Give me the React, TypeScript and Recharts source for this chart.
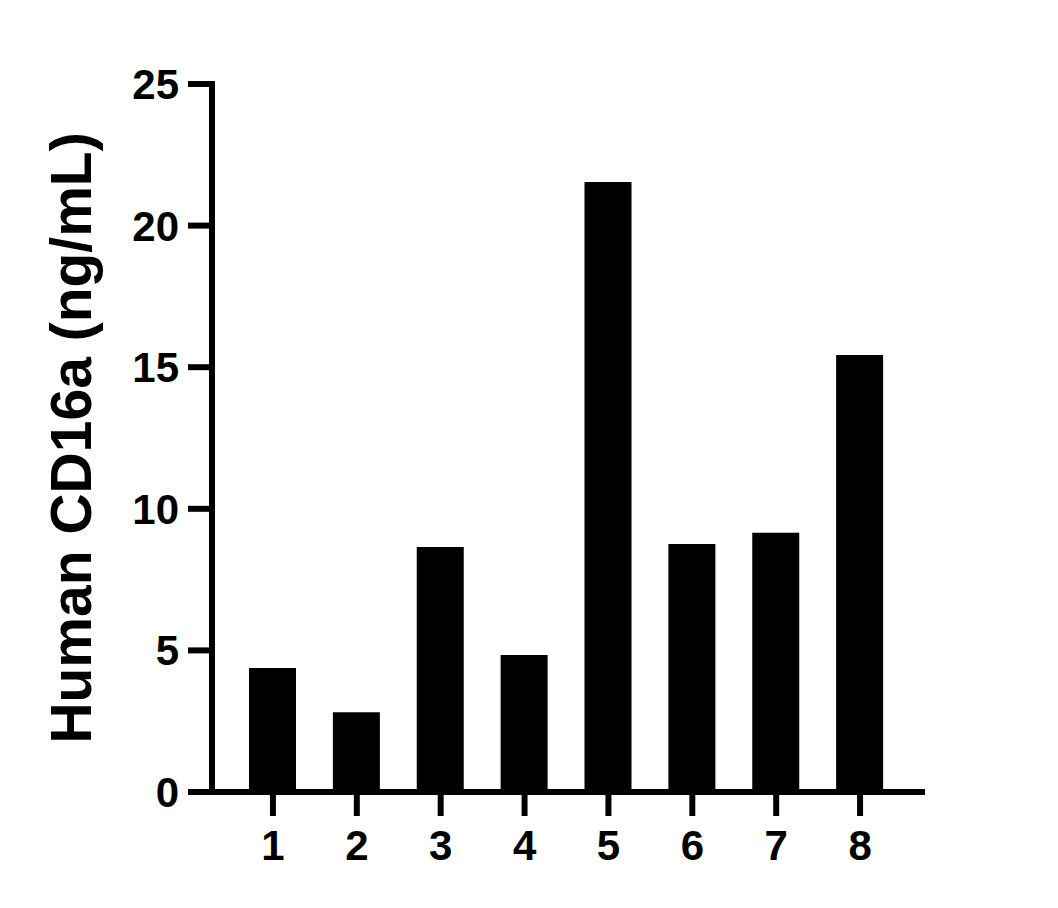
import React from 'react';
import { BarChart, Bar, XAxis, YAxis } from 'recharts';

const samples = ['1', '2', '3', '4', '5', '6', '7', '8'];
const cd16a = [4.38, 2.82, 8.65, 4.84, 21.54, 8.76, 9.15, 15.43];
const yTicks = [0, 5, 10, 15, 20, 25];

const data = samples.map((name, i) => ({ name, value: cd16a[i] }));

const FONT = '"Liberation Sans", Arial, sans-serif';
const axisLine = { stroke: '#000', strokeWidth: 6, strokeLinecap: 'square' as const };
const tickLine = { stroke: '#000', strokeWidth: 6 };

const YTitle = () => (
  <text
    x={91}
    y={438}
    transform="rotate(-90, 91, 438)"
    textAnchor="middle"
    fontFamily={FONT}
    fontWeight="bold"
    fontSize={57}
    fill="#000"
  >
    Human CD16a (ng/mL)
  </text>
);

const App: React.FC = () => {
  return (
    <div style={{ position: 'absolute', left: 0, top: 0, background: '#fff' }}>
      <BarChart
        width={1058}
        height={908}
        data={data}
        margin={{ top: 84, right: 136, bottom: 36, left: 112 }}
      >
        <XAxis
          dataKey="name"
          height={80}
          padding={{ left: 19, right: 20 }}
          axisLine={axisLine}
          tickLine={tickLine}
          tickSize={24}
          tickMargin={14}
          tick={{ fill: '#000', fontSize: 42, fontWeight: 'bold', fontFamily: FONT }}
        />
        <YAxis
          width={100}
          domain={[0, 25]}
          ticks={yTicks}
          interval={0}
          axisLine={axisLine}
          tickLine={tickLine}
          tickSize={24}
          tickMargin={9}
          tick={{ fill: '#000', fontSize: 42, fontWeight: 'bold', fontFamily: FONT }}
          label={<YTitle />}
        />
        <Bar dataKey="value" fill="#000" barSize={47} isAnimationActive={false} />
      </BarChart>
    </div>
  );
};

export default App;
